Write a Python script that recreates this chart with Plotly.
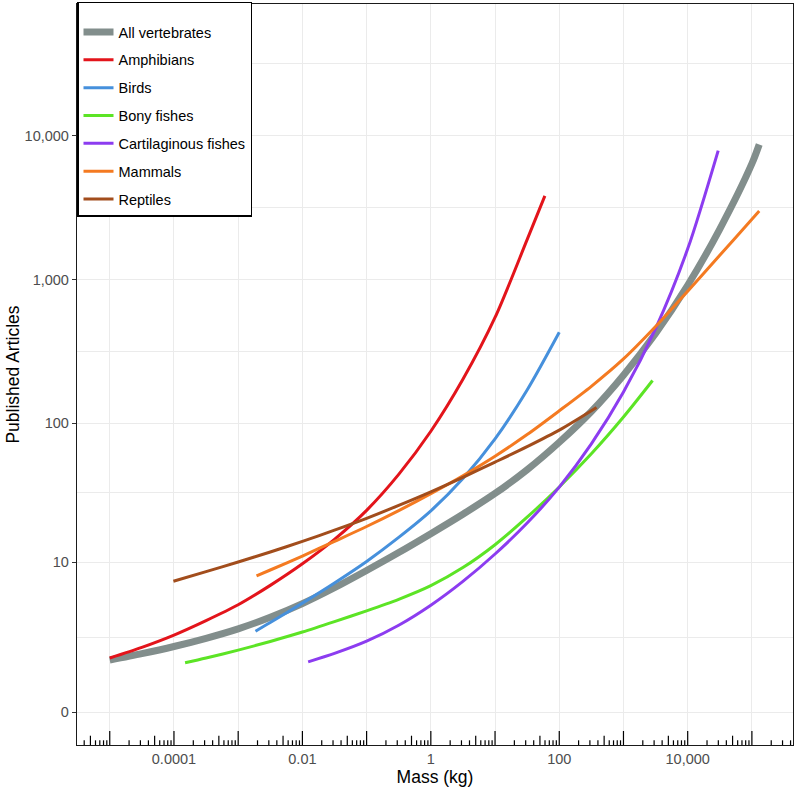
import math
import plotly.graph_objects as go

# ---------------- data ----------------
series_names = ["All vertebrates", "Amphibians", "Birds", "Bony fishes",
                "Cartilaginous fishes", "Mammals", "Reptiles"]

all_mass = [1e-5, 3.16e-5, 1e-4, 3.16e-4, 1e-3, 3.16e-3, 0.01, 0.0316, 0.1, 0.316, 1, 3.16,
            10, 31.6, 100, 316, 1000, 3162, 1e4, 31623, 1e5, 1.3e5]
all_articles = [1.29, 1.54, 1.85, 2.25, 2.78, 3.55, 4.66, 6.29, 8.61, 11.8, 16.3, 22.6,
                31.9, 47.1, 73.6, 121, 217, 423, 916, 2251, 6400, 8700]

amph_mass = [1e-5, 3.16e-5, 1e-4, 3.16e-4, 1e-3, 3.16e-3, 0.01, 0.0316, 0.1, 0.316, 1, 3.16,
             10, 31.6, 59.7]
amph_articles = [1.37, 1.81, 2.42, 3.31, 4.55, 6.57, 9.69, 14.8, 24.1, 43.6, 87.9, 203,
                 547, 1900, 3827]

bird_mass = [0.00186, 0.00316, 0.01, 0.0316, 0.1, 0.316, 1, 3.16, 10, 31.6, 100]
bird_articles = [2.64, 3.18, 4.70, 6.87, 10.1, 15.3, 23.9, 40.8, 77.7, 171, 432]

bony_mass = [1.49e-4, 3.16e-4, 1e-3, 3.16e-3, 0.01, 0.0316, 0.1, 0.316, 1, 3.16, 10, 31.6,
             100, 316, 1000, 2838]
bony_articles = [1.20, 1.37, 1.69, 2.09, 2.59, 3.24, 4.04, 5.06, 6.54, 9.06, 13.5, 21.5,
                 35.5, 61.0, 110.6, 199]

cart_mass = [0.0123, 0.0316, 0.1, 0.316, 1, 3.16, 10, 31.6, 100, 316, 1000, 3162, 1e4, 29854]
cart_articles = [1.23, 1.55, 2.10, 3.00, 4.51, 7.06, 11.5, 19.5, 35.4, 71.7, 165.5, 458,
                 1640, 7900]

mamm_mass = [0.00193, 0.00316, 0.01, 0.0316, 0.1, 0.316, 1, 3.16, 10, 31.6, 100, 316,
             1000, 3162, 1e4, 31623, 1e5, 1.3e5]
mamm_articles = [7.81, 8.68, 11.1, 14.3, 18.4, 24.0, 31.8, 42.7, 58.7, 83.3, 122.3, 181.4,
                 281.4, 473, 833, 1481, 2635, 3005]

rept_mass = [9.8e-5, 3.16e-4, 1e-3, 3.16e-3, 0.01, 0.0316, 0.1, 0.316, 1, 3.16, 10, 31.6,
             100, 381]
rept_articles = [7.09, 8.43, 10.0, 11.9, 14.3, 17.3, 21.1, 26.2, 32.8, 41.6, 53.3, 68.5,
                 89.5, 129]

series_mass = [all_mass, amph_mass, bird_mass, bony_mass, cart_mass, mamm_mass, rept_mass]
series_articles = [all_articles, amph_articles, bird_articles, bony_articles,
                   cart_articles, mamm_articles, rept_articles]

colors = ["#828e8c", "#e3141b", "#4690dc", "#5ce425", "#8c3cf0", "#f47a21", "#a24d1c"]
widths = [7, 3, 3, 3, 3, 3, 3]

x_tick_vals = [1e-4, 1e-2, 1, 100, 1e4]
x_tick_text = ["0.0001", "0.01", "1", "100", "10,000"]
x_minor_vals = [1e-5, 1e-3, 0.1, 10, 1000, 1e5]

y_tick_vals = [0, 10, 100, 1000, 10000]
y_tick_text = ["0", "10", "100", "1,000", "10,000"]

FONT = "Liberation Sans, Arial, Helvetica, sans-serif"

fig = go.Figure()

# y axis is a log10(articles + 1) scale
for i, name in enumerate(series_names):
    fig.add_trace(go.Scatter(
        x=series_mass[i],
        y=[v + 1 for v in series_articles[i]],
        customdata=series_articles[i],
        hovertemplate="%{x}<br>%{customdata}<extra>" + name + "</extra>",
        mode="lines",
        line=dict(color=colors[i], width=widths[i], shape="spline", smoothing=0.8),
        name=name,
        legendgroup=name,
    ))

# minor y grid at midpoints in transformed space
t_major = [math.log10(v + 1) for v in y_tick_vals]
t_minor = [(a + b) / 2 for a, b in zip(t_major[:-1], t_major[1:])] + [t_major[-1] + 0.5]
y_minor_vals = [10 ** t for t in t_minor]

# log ticks along the bottom (annotation_logticks style)
x_lo, x_hi = -5.51, 5.64
M_L, M_R, M_T, M_B = 77, 3, 3, 47
plot_h = 792 - M_T - M_B
shapes = []
for dec in range(-6, 7):
    for m in range(1, 10):
        v = m * 10 ** dec
        lv = math.log10(v)
        if lv <= x_lo + 0.005 or lv >= x_hi - 0.005:
            continue
        if m == 1:
            L = 14
        elif m == 5:
            L = 9.3
        else:
            L = 4.7
        shapes.append(dict(type="line", xref="x", yref="paper",
                           x0=v, x1=v, y0=0, y1=L / plot_h,
                           line=dict(color="black", width=1.2), layer="above"))

fig.update_layout(
    width=796, height=792,
    margin=dict(l=M_L, r=M_R, t=M_T, b=M_B),
    paper_bgcolor="white", plot_bgcolor="white",
    font=dict(family=FONT, color="black"),
    showlegend=True,
    legend=dict(x=0, y=1.002, xanchor="left", yanchor="top",
                bgcolor="white", bordercolor="black", borderwidth=1.5,
                font=dict(family=FONT, size=14.5, color="black"),
                title=dict(text="&nbsp;", font=dict(size=10)),
                tracegroupgap=6, itemwidth=30),
    shapes=shapes,
)

fig.update_xaxes(
    type="log", range=[x_lo, x_hi], automargin=False,
    tickmode="array", tickvals=x_tick_vals, ticktext=x_tick_text,
    ticks="", showgrid=True, gridcolor="#ebebeb", gridwidth=1.1,
    minor=dict(tickmode="array", tickvals=x_minor_vals, showgrid=True,
               gridcolor="#ebebeb", gridwidth=0.6, ticks=""),
    showline=True, linecolor="#1a1a1a", linewidth=1.3, mirror=True,
    tickfont=dict(family=FONT, size=14.5, color="#4d4d4d"),
    title=dict(text="Mass (kg)", font=dict(family=FONT, size=17.5, color="black"), standoff=4),
    zeroline=False,
)

fig.update_yaxes(
    type="log", range=[-0.229, 4.915], automargin=False,
    tickmode="array", tickvals=[v + 1 for v in y_tick_vals], ticktext=y_tick_text,
    ticks="outside", ticklen=4, tickwidth=1.1, tickcolor="#333333",
    showgrid=True, gridcolor="#ebebeb", gridwidth=1.1,
    minor=dict(tickmode="array", tickvals=y_minor_vals, showgrid=True,
               gridcolor="#ebebeb", gridwidth=0.6, ticks=""),
    showline=True, linecolor="#1a1a1a", linewidth=1.3, mirror=True,
    tickfont=dict(family=FONT, size=14.5, color="#4d4d4d"),
    title=dict(text="Published Articles", font=dict(family=FONT, size=17.5, color="black"), standoff=0),
    zeroline=False,
)

fig.write_html(
    "out.html",
    config={"displayModeBar": False},
    post_script="document.body.style.margin='0';document.body.style.overflow='hidden';",
)
